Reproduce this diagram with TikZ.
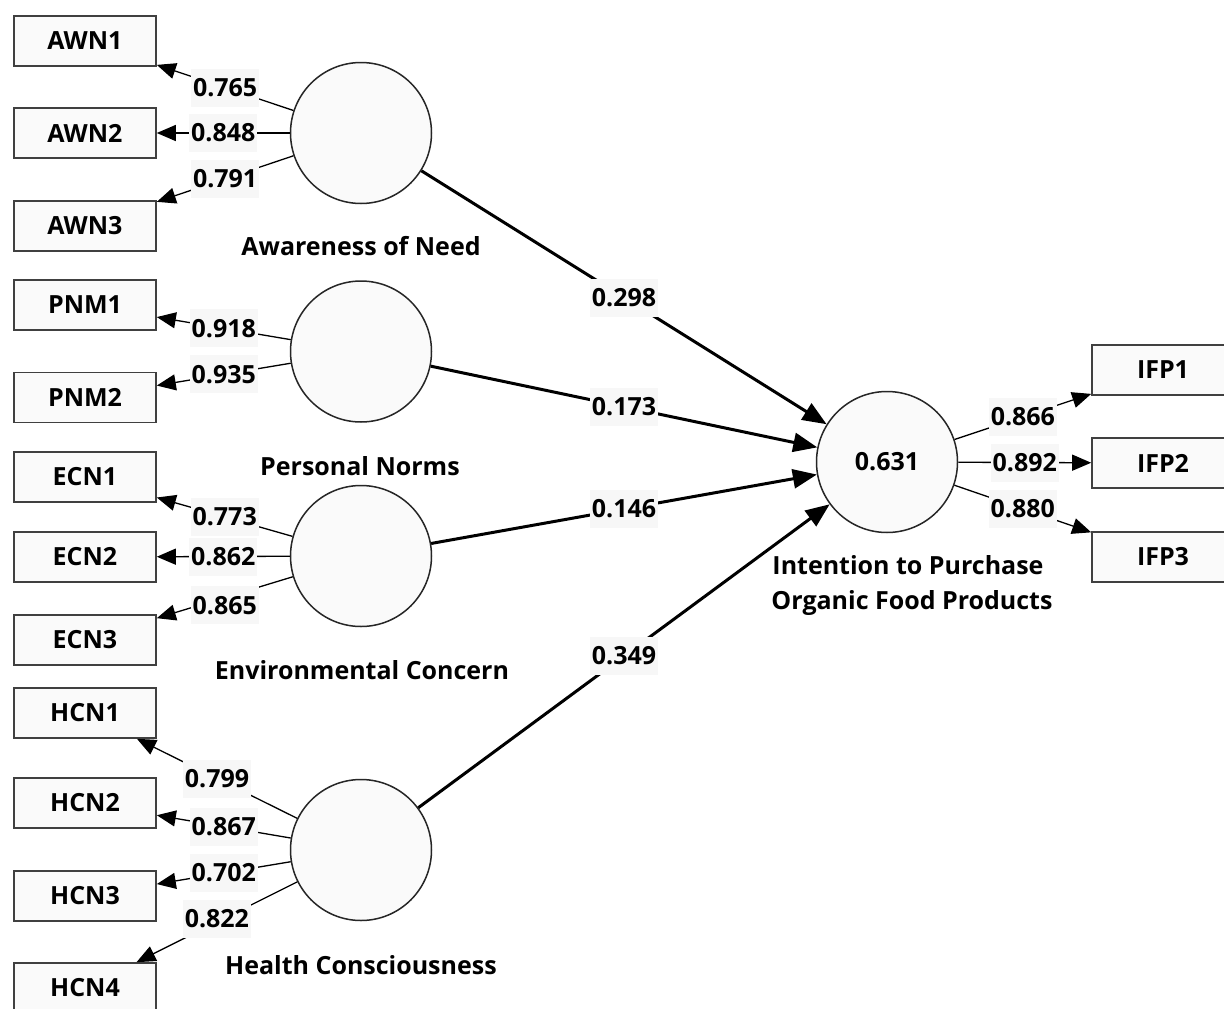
\documentclass[tikz,border=0pt]{standalone}
\usepackage{fontspec}
\setmainfont{Open Sans}
\usetikzlibrary{arrows.meta}
\begin{document}
\begin{tikzpicture}[x=1pt,y=-1pt,
  font=\fontsize{25}{29}\selectfont\bfseries,
  ind/.style={draw=black!75, line width=1.6pt, fill=black!2, minimum width=142pt, minimum height=50pt, inner sep=0pt},
  lv/.style={circle, draw=black!85, line width=1.5pt, fill=black!2, minimum size=141pt, inner sep=0pt},
  ld/.style={-{Triangle[length=19pt,width=16pt]}, line width=1.3pt, black},
  pth/.style={-{Triangle[length=24pt,width=19pt]}, line width=3pt, black},
  wt/.style={fill=black!3, inner xsep=2pt, inner ysep=0pt, minimum height=38pt, pos=0.5},
  lvname/.style={align=center}
]
\useasboundingbox (0,0) rectangle (1224,1009);
\fill[white] (0,0) rectangle (1224,1009);
% indicators
\node[ind] (awn1) at (85,41) {AWN1};
\node[ind] (awn2) at (85,133) {AWN2};
\node[ind] (awn3) at (85,226) {AWN3};
\node[ind] (pnm1) at (85,305) {PNM1};
\node[ind] (pnm2) at (85,397.5) {PNM2};
\node[ind] (ecn1) at (85,477) {ECN1};
\node[ind] (ecn2) at (85,557) {ECN2};
\node[ind] (ecn3) at (85,640) {ECN3};
\node[ind] (hcn1) at (85,713) {HCN1};
\node[ind] (hcn2) at (85,803) {HCN2};
\node[ind] (hcn3) at (85,896) {HCN3};
\node[ind] (hcn4) at (85,988) {HCN4};
\node[ind] (ifp1) at (1163,370) {IFP1};
\node[ind] (ifp2) at (1163,463) {IFP2};
\node[ind] (ifp3) at (1163,557) {IFP3};
% latent variables
\node[lv] (awn) at (361,133) {};
\node[lv] (pnm) at (361,351.5) {};
\node[lv] (ecn) at (361,556) {};
\node[lv] (hcn) at (361,850) {};
\node[lv] (ifp) at (887,462) {0.631};
% captions
\node[lvname] (cawn) at (361,246) {Awareness of Need};
\node[lvname] (cpnm) at (360,466) {Personal Norms};
\node[lvname] (cecn) at (362,670) {Environmental Concern};
\node[lvname] (chcn) at (361,965) {Health Consciousness};
\node[lvname] (cifp1) at (908,565) {Intention to Purchase};
\node[lvname] (cifp2) at (912,603) {Organic Food Products};
% outer loadings
\draw[ld] (awn) -- node[wt]{0.765} (awn1);
\draw[ld] (awn) -- node[wt]{0.848} (awn2);
\draw[ld] (awn) -- node[wt]{0.791} (awn3);
\draw[ld] (pnm) -- node[wt]{0.918} (pnm1);
\draw[ld] (pnm) -- node[wt]{0.935} (pnm2);
\draw[ld] (ecn) -- node[wt]{0.773} (ecn1);
\draw[ld] (ecn) -- node[wt]{0.862} (ecn2);
\draw[ld] (ecn) -- node[wt,yshift=-8pt]{0.865} (ecn3);
\draw[ld] (hcn) -- node[wt]{0.799} (hcn1);
\draw[ld] (hcn) -- node[wt]{0.867} (hcn2);
\draw[ld] (hcn) -- node[wt]{0.702} (hcn3);
\draw[ld] (hcn) -- node[wt,yshift=3pt]{0.822} (hcn4);
\draw[ld] (ifp) -- node[wt]{0.866} (ifp1);
\draw[ld] (ifp) -- node[wt]{0.892} (ifp2);
\draw[ld] (ifp) -- node[wt]{0.880} (ifp3);
% path coefficients
\draw[pth] (awn) -- node[wt]{0.298} (ifp);
\draw[pth] (pnm) -- node[wt]{0.173} (ifp);
\draw[pth] (ecn) -- node[wt]{0.146} (ifp);
\draw[pth] (hcn) -- node[wt]{0.349} (ifp);
\end{tikzpicture}
\end{document}
